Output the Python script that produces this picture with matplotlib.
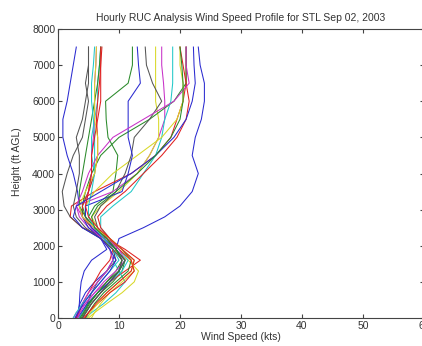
import matplotlib
matplotlib.use("Agg")
import matplotlib.pyplot as plt

plt.rcParams['font.family'] = ['Liberation Sans', 'DejaVu Sans']

title = "Hourly RUC Analysis Wind Speed Profile for STL Sep 02, 2003"
xlabel = "Wind Speed (kts)"
ylabel = "Height (ft AGL)"

heights = [0, 150, 400, 700, 1000, 1300, 1600, 1900, 2200, 2500, 2800,
           3100, 3500, 4000, 4500, 5000, 5500, 6000, 6500, 7000, 7500]

p01 = [3.0, 3.3, 3.6, 4.5, 6.0, 8.0, 9.0, 9.5, 10.0, 14.0, 17.5, 20.0, 22.0, 23.0, 22.0, 22.5, 23.5, 24.0, 24.0, 23.3, 23.0]
p02 = [4.0, 4.6, 5.5, 7.0, 9.0, 10.5, 11.0, 9.5, 8.0, 6.0, 5.0, 6.0, 9.0, 9.5, 9.8, 8.2, 7.9, 7.8, 11.5, 12.2, 12.2]
p03 = [3.5, 4.0, 5.0, 6.5, 8.5, 11.0, 13.5, 11.0, 8.0, 4.0, 2.0, 2.2, 6.0, 12.0, 16.0, 18.5, 19.5, 20.5, 21.0, 21.0, 21.0]
p04 = [4.5, 5.5, 7.5, 9.5, 11.0, 10.0, 9.0, 8.5, 7.5, 5.5, 4.0, 4.0, 5.0, 6.0, 5.5, 5.5, 6.0, 6.5, 6.5, 6.8, 7.0]
p05 = [2.5, 3.0, 4.5, 6.0, 8.0, 10.0, 11.0, 9.0, 7.5, 5.0, 3.5, 3.0, 9.0, 13.0, 15.0, 16.5, 17.5, 17.5, 17.3, 17.0, 17.0]
p06 = [5.0, 6.0, 8.0, 10.5, 12.5, 13.2, 11.5, 9.0, 8.0, 6.5, 5.5, 7.0, 10.0, 13.0, 15.0, 16.5, 16.5, 16.0, 16.0, 16.0, 16.0]
p07 = [3.5, 4.0, 4.8, 5.5, 6.5, 8.0, 9.5, 9.0, 7.0, 4.0, 2.0, 1.0, 0.7, 1.5, 2.5, 4.0, 4.5, 5.0, 4.5, 5.0, 5.0]
p08 = [3.0, 3.3, 3.5, 3.6, 3.8, 4.3, 5.5, 8.0, 7.0, 5.0, 4.0, 3.5, 3.2, 2.5, 1.5, 0.8, 0.8, 1.5, 2.0, 2.5, 3.0]
p09 = [4.5, 5.0, 6.0, 7.5, 9.5, 11.5, 12.0, 10.5, 8.5, 6.0, 4.5, 4.0, 4.5, 5.5, 7.0, 10.0, 15.0, 19.0, 21.0, 21.0, 21.0]
p10 = [3.0, 3.5, 4.0, 5.0, 6.0, 7.0, 8.5, 9.0, 7.5, 5.5, 4.0, 4.0, 5.0, 6.0, 6.5, 6.5, 6.3, 6.5, 6.8, 7.0, 7.2]
p11 = [3.5, 4.0, 5.0, 6.5, 8.5, 10.5, 11.5, 10.0, 8.5, 7.0, 7.0, 9.0, 12.0, 14.0, 16.0, 17.0, 17.5, 18.5, 18.8, 18.8, 18.8]
p12 = [2.8, 3.2, 4.0, 5.0, 6.5, 8.0, 9.0, 8.5, 7.0, 5.5, 4.5, 4.5, 5.0, 5.5, 5.5, 5.8, 6.0, 6.0, 6.0, 6.2, 6.3]
p13 = [5.5, 6.0, 7.0, 8.5, 10.5, 12.5, 12.0, 10.0, 8.0, 6.0, 4.5, 4.5, 6.0, 9.0, 13.0, 17.0, 19.5, 20.5, 20.5, 20.0, 20.0]
p14 = [4.0, 4.5, 5.5, 7.0, 8.5, 10.0, 10.5, 9.5, 8.0, 6.5, 6.0, 7.0, 9.5, 11.0, 12.0, 12.5, 15.0, 17.0, 15.5, 14.5, 14.3]
p15 = [3.2, 3.8, 4.8, 6.5, 8.5, 10.0, 11.0, 9.5, 7.5, 5.5, 4.5, 4.5, 10.5, 11.5, 12.2, 11.5, 11.5, 11.5, 13.5, 13.2, 13.0]
p16 = [3.8, 4.3, 5.2, 6.5, 8.0, 9.5, 10.5, 9.5, 8.0, 6.0, 4.5, 3.5, 3.5, 4.0, 4.5, 5.0, 5.5, 6.0, 6.5, 6.8, 7.0]
p17 = [4.2, 5.0, 6.5, 8.5, 11.0, 12.5, 12.0, 10.0, 8.5, 7.0, 6.5, 8.0, 11.0, 14.0, 17.0, 19.5, 21.0, 21.5, 21.0, 20.5, 20.0]
p18 = [2.5, 3.0, 4.0, 5.5, 7.0, 8.5, 10.0, 9.0, 7.5, 6.0, 5.0, 5.0, 5.5, 6.0, 6.0, 6.0, 5.8, 5.5, 5.5, 5.8, 6.0]
p19 = [3.2, 3.6, 4.5, 6.0, 7.5, 9.5, 11.0, 10.0, 8.0, 6.0, 4.0, 3.0, 4.0, 5.0, 6.5, 9.0, 14.0, 19.0, 21.5, 21.0, 21.0]
p20 = [4.8, 5.3, 6.5, 8.0, 10.0, 12.0, 12.5, 10.5, 8.5, 6.0, 4.0, 3.5, 4.5, 6.0, 6.5, 6.5, 6.0, 6.0, 6.0, 6.2, 6.3]
p21 = [4.0, 4.5, 5.5, 7.0, 8.5, 10.0, 10.5, 9.0, 7.0, 4.5, 3.0, 2.5, 3.0, 3.5, 3.5, 3.0, 4.0, 4.5, 5.0, 5.0, 5.0]
p22 = [2.8, 3.3, 4.2, 5.5, 7.0, 8.5, 9.5, 8.5, 7.0, 4.0, 2.5, 3.0, 7.0, 12.0, 16.0, 19.0, 21.0, 22.0, 22.5, 22.3, 22.2]
p23 = [3.6, 4.2, 5.0, 6.5, 8.0, 10.0, 11.0, 9.5, 8.0, 6.0, 5.5, 6.5, 9.5, 13.0, 16.0, 18.5, 20.0, 20.5, 20.5, 20.3, 20.0]
p24 = [4.4, 5.0, 6.2, 8.0, 10.0, 12.0, 12.5, 10.5, 8.5, 6.5, 5.0, 4.5, 5.0, 5.5, 5.5, 6.0, 6.5, 7.0, 7.0, 7.0, 7.0]

profiles = [p01, p02, p03, p04, p05, p06, p07, p08, p09, p10, p11, p12,
            p13, p14, p15, p16, p17, p18, p19, p20, p21, p22, p23, p24]

colors = ['#2a2ad0', '#2a8a2a', '#e02020', '#20c8c8', '#c830c8', '#d8d828', '#555555']

x_ticks = [0, 10, 20, 30, 40, 50, 60]
y_ticks = [0, 1000, 2000, 3000, 4000, 5000, 6000, 7000, 8000]

fig = plt.figure(figsize=(4.22, 3.46), dpi=100)
ax = fig.add_axes([58/422, 28/346, 366/422, 289/346])

for i, p in enumerate(profiles):
    ax.plot(p, heights, color=colors[i % len(colors)], linewidth=0.75)

ax.set_xlim(0, 60)
ax.set_ylim(0, 8000)
ax.set_xticks(x_ticks)
ax.set_yticks(y_ticks)
ax.set_xticklabels([str(t) for t in x_ticks])
ax.set_yticklabels([str(t) for t in y_ticks])
ax.tick_params(direction='in', length=3, width=0.8, top=True, right=True,
               labelsize=7.5, labelcolor='#333333', colors='#444444', pad=2)
for s in ax.spines.values():
    s.set_color('#444444')
    s.set_linewidth(0.8)

ax.set_title(title, fontsize=7.5, color='#333333', pad=6)
ax.set_xlabel(xlabel, fontsize=7.5, color='#333333', labelpad=1)
ax.set_ylabel(ylabel, fontsize=7.5, color='#333333')
ax.yaxis.set_label_coords(-0.098, 0.54)

fig.savefig("out.png", dpi=100)
